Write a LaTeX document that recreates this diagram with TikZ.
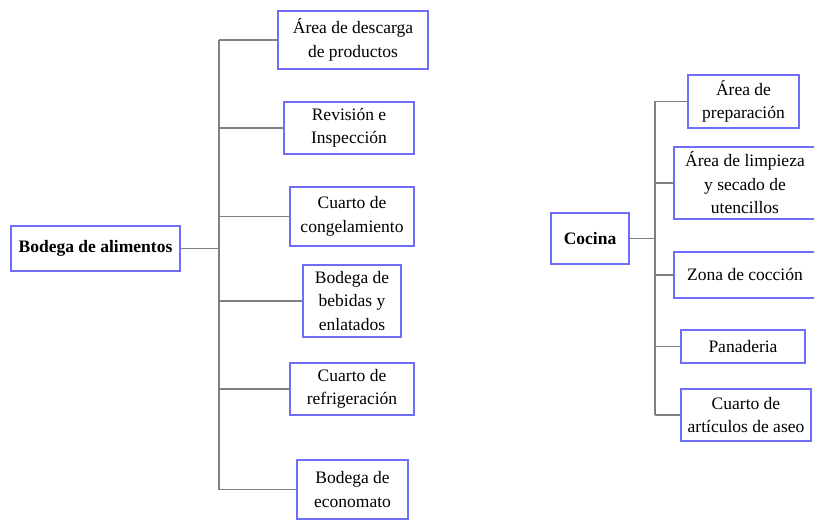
\documentclass[tikz,border=0pt]{standalone}
\usepackage{fontspec}
\setmainfont{Liberation Serif}
\usepackage{tikz}
\usetikzlibrary{positioning}
\usepackage{xcolor}
\definecolor{boxblue}{RGB}{110,110,250}
\definecolor{linegray}{RGB}{128,128,128}

\begin{document}
\begin{tikzpicture}[x=1pt,y=-1pt,
  area/.style={draw=boxblue,line width=1.3pt,fill=white,inner sep=0pt,align=center,
    font=\fontsize{17.5}{23.5}\selectfont},
  main/.style={area,font=\fontsize{17.5}{23.5}\selectfont\bfseries},
  link/.style={draw=linegray,line width=1.2pt}]
\clip (0,0) rectangle (814,521);
\fill[white] (0,0) rectangle (814,521);
% Bodega de alimentos
\node[main,minimum width=169pt,minimum height=45pt] (bodega) at (95.5,248.5) {Bodega de alimentos};
\node[area,minimum width=150pt,minimum height=58pt] (descarga) at (353,40) {Área de descarga\\de productos};
\node[area,minimum width=130pt,minimum height=52pt] (revision) at (349,128) {Revisión e\\Inspección};
\node[area,minimum width=124pt,minimum height=59pt] (congela) at (352,216.5) {Cuarto de\\congelamiento};
\node[area,minimum width=98pt,minimum height=72pt] (bebidas) at (352,301) {Bodega de\\bebidas y\\enlatados};
\node[area,minimum width=124pt,minimum height=52pt] (refri) at (352,389) {Cuarto de\\refrigeración};
\node[area,minimum width=111pt,minimum height=59pt] (economato) at (352.5,489.5) {Bodega de\\economato};
\coordinate (ltrunk) at (219,251);
\draw[link] (bodega.east) -- (bodega.east -| ltrunk);
\draw[link] (descarga.west -| ltrunk) -- (economato.west -| ltrunk);
\foreach \n in {descarga,revision,congela,bebidas,refri,economato}
  \draw[link] (\n.west) -- (\n.west -| ltrunk);
% Cocina
\node[main,minimum width=78pt,minimum height=51pt] (cocina) at (590,238.5) {Cocina};
\node[area,minimum width=111pt,minimum height=53pt] (prepara) at (743.5,101.5) {Área de\\preparación};
\node[area,minimum width=142pt,minimum height=72pt] (limpieza) at (745,183) {Área de limpieza\\y secado de\\utencillos};
\node[area,minimum width=142pt,minimum height=46pt] (coccion) at (745,275) {Zona de cocción};
\node[area,minimum width=124pt,minimum height=33pt] (panaderia) at (743,346.5) {Panaderia};
\node[area,minimum width=130pt,minimum height=52pt] (aseo) at (746,415) {Cuarto de\\artículos de aseo};
\coordinate (rtrunk) at (655,243);
\draw[link] (cocina.east) -- (cocina.east -| rtrunk);
\draw[link] (prepara.west -| rtrunk) -- (aseo.west -| rtrunk);
\foreach \n in {prepara,limpieza,coccion,panaderia,aseo}
  \draw[link] (\n.west) -- (\n.west -| rtrunk);
\end{tikzpicture}
\end{document}
